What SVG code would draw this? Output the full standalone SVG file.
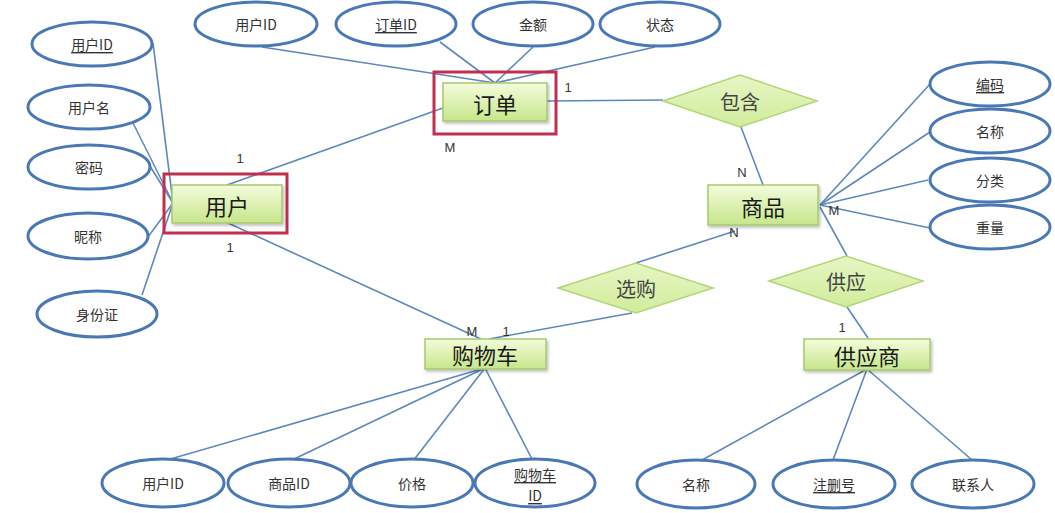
<svg xmlns="http://www.w3.org/2000/svg" width="1055" height="513" viewBox="0 0 1055 513">
<defs>
<linearGradient id="eg" x1="0" y1="0" x2="0" y2="1">
<stop offset="0" stop-color="#f4fcdc"/>
<stop offset="1" stop-color="#c6e68a"/>
</linearGradient>
<linearGradient id="dg" x1="0" y1="0" x2="0" y2="1">
<stop offset="0" stop-color="#e6f6c4"/>
<stop offset="1" stop-color="#d0ec9c"/>
</linearGradient>
<filter id="sh" x="-10%" y="-20%" width="130%" height="150%">
<feDropShadow dx="1.5" dy="2" stdDeviation="1.5" flood-color="#000" flood-opacity="0.25"/>
</filter>
<style>
.attr ellipse{fill:#fff;stroke:#4a78b4;stroke-width:3}
.attr text{font-family:"Noto Sans CJK SC","Liberation Sans",sans-serif;font-size:14px;fill:#333;text-anchor:middle;dominant-baseline:central}
.u{text-decoration:underline}
.ent rect.b{fill:url(#eg);stroke:#a8c870;stroke-width:1.5;filter:url(#sh)}
.ent rect.r{fill:none;stroke:#c0304e;stroke-width:3}
.ent text{font-family:"Noto Sans CJK SC","Liberation Sans",sans-serif;font-size:22px;fill:#1a1a1a;text-anchor:middle;dominant-baseline:central}
.rel polygon{fill:url(#dg);stroke:#b4d47a;stroke-width:1.5}
.rel text{font-family:"Noto Sans CJK SC","Liberation Sans",sans-serif;font-size:20px;fill:#444;text-anchor:middle;dominant-baseline:central}
#connectors line{stroke:#5f87bd;stroke-width:1.6}
.card{font-family:"Liberation Sans",sans-serif;font-size:13px;fill:#333;text-anchor:middle;dominant-baseline:central}
</style>
</defs>
<rect width="1055" height="513" fill="#fff"/>

<g id="connectors">
<line x1="153" y1="43" x2="173" y2="203"/>
<line x1="133" y1="123" x2="173" y2="203"/>
<line x1="148" y1="163" x2="173" y2="203"/>
<line x1="148" y1="237" x2="173" y2="203"/>
<line x1="142" y1="295" x2="173" y2="203"/>
<line x1="262" y1="47" x2="495" y2="83"/>
<line x1="440" y1="42" x2="495" y2="83"/>
<line x1="533" y1="47" x2="495" y2="83"/>
<line x1="655" y1="47" x2="495" y2="83"/>
<line x1="227" y1="185" x2="443" y2="108"/>
<line x1="228" y1="223" x2="481" y2="339"/>
<line x1="547" y1="101" x2="663" y2="100"/>
<line x1="741" y1="127" x2="763" y2="185"/>
<line x1="820" y1="205" x2="930" y2="84"/>
<line x1="820" y1="205" x2="930" y2="132"/>
<line x1="820" y1="205" x2="928" y2="180"/>
<line x1="820" y1="205" x2="930" y2="228"/>
<line x1="636" y1="263" x2="735" y2="231"/>
<line x1="632" y1="313" x2="489" y2="339"/>
<line x1="820" y1="207" x2="847" y2="256"/>
<line x1="847" y1="307" x2="868" y2="338"/>
<line x1="485" y1="368" x2="167" y2="460"/>
<line x1="485" y1="368" x2="292" y2="460"/>
<line x1="485" y1="368" x2="413" y2="461"/>
<line x1="485" y1="368" x2="533" y2="461"/>
<line x1="867" y1="369" x2="702" y2="460"/>
<line x1="867" y1="369" x2="833" y2="460"/>
<line x1="867" y1="369" x2="972" y2="460"/>
</g>

<g id="cardinalities">
<text class="card" x="240" y="158">1</text>
<text class="card" x="450" y="147">M</text>
<text class="card" x="230" y="247">1</text>
<text class="card" x="568" y="87">1</text>
<text class="card" x="742" y="172">N</text>
<text class="card" x="834" y="210">M</text>
<text class="card" x="734" y="232">N</text>
<text class="card" x="472" y="331">M</text>
<text class="card" x="506" y="331">1</text>
<text class="card" x="842" y="327">1</text>
</g>

<g id="attr-user-id" class="attr"><ellipse cx="92" cy="44" rx="60" ry="22"/><text x="92" y="44" class="u">用户ID</text></g>
<g id="attr-user-name" class="attr"><ellipse cx="89" cy="107" rx="61" ry="22"/><text x="89" y="107">用户名</text></g>
<g id="attr-password" class="attr"><ellipse cx="89" cy="167" rx="61" ry="22"/><text x="89" y="167">密码</text></g>
<g id="attr-nickname" class="attr"><ellipse cx="88" cy="236" rx="60" ry="23"/><text x="88" y="236">昵称</text></g>
<g id="attr-idcard" class="attr"><ellipse cx="97" cy="314" rx="60" ry="23"/><text x="97" y="314">身份证</text></g>

<g id="attr-order-userid" class="attr"><ellipse cx="256" cy="24" rx="61" ry="22"/><text x="256" y="24">用户ID</text></g>
<g id="attr-order-id" class="attr"><ellipse cx="396" cy="24" rx="60" ry="22"/><text x="396" y="24" class="u">订单ID</text></g>
<g id="attr-amount" class="attr"><ellipse cx="533" cy="24" rx="60" ry="22"/><text x="533" y="24">金额</text></g>
<g id="attr-status" class="attr"><ellipse cx="660" cy="24" rx="60" ry="22"/><text x="660" y="24">状态</text></g>

<g id="attr-code" class="attr"><ellipse cx="990" cy="84" rx="60" ry="22"/><text x="990" y="84" class="u">编码</text></g>
<g id="attr-goods-name" class="attr"><ellipse cx="990" cy="131" rx="60" ry="22"/><text x="990" y="131">名称</text></g>
<g id="attr-category" class="attr"><ellipse cx="990" cy="180" rx="60" ry="22"/><text x="990" y="180">分类</text></g>
<g id="attr-weight" class="attr"><ellipse cx="990" cy="227" rx="60" ry="22"/><text x="990" y="227">重量</text></g>

<g id="attr-cart-userid" class="attr"><ellipse cx="163" cy="483" rx="61" ry="24"/><text x="163" y="483">用户ID</text></g>
<g id="attr-cart-goodsid" class="attr"><ellipse cx="289" cy="483" rx="61" ry="24"/><text x="289" y="483">商品ID</text></g>
<g id="attr-price" class="attr"><ellipse cx="412" cy="483" rx="61" ry="24"/><text x="412" y="483">价格</text></g>
<g id="attr-cart-id" class="attr"><ellipse cx="535" cy="483" rx="60" ry="24"/><text x="535" y="474" class="u">购物车</text><text x="535" y="495" class="u">ID</text></g>

<g id="attr-supplier-name" class="attr"><ellipse cx="696" cy="484" rx="59" ry="24"/><text x="696" y="484">名称</text></g>
<g id="attr-regno" class="attr"><ellipse cx="834" cy="484" rx="61" ry="24"/><text x="834" y="484" class="u">注删号</text></g>
<g id="attr-contact" class="attr"><ellipse cx="973" cy="484" rx="61" ry="24"/><text x="973" y="484">联系人</text></g>

<g id="ent-user" class="ent"><rect class="r" x="164" y="174" width="123" height="59"/><rect class="b" x="172" y="185" width="110" height="38"/><text x="227" y="205">用户</text></g>
<g id="ent-order" class="ent"><rect class="r" x="434" y="72" width="122" height="62"/><rect class="b" x="443" y="83" width="104" height="38"/><text x="495" y="103">订单</text></g>
<g id="ent-goods" class="ent"><rect class="b" x="708" y="185" width="110" height="40"/><text x="763" y="206">商品</text></g>
<g id="ent-cart" class="ent"><rect class="b" x="425" y="339" width="121" height="30"/><text x="485" y="354">购物车</text></g>
<g id="ent-supplier" class="ent"><rect class="b" x="804" y="339" width="126" height="31"/><text x="867" y="355">供应商</text></g>

<g id="rel-contain" class="rel"><polygon points="663,101 740,75 817,101 740,127"/><text x="740" y="101">包含</text></g>
<g id="rel-select" class="rel"><polygon points="558,288 636,263 713,288 636,313"/><text x="636" y="288">选购</text></g>
<g id="rel-supply" class="rel"><polygon points="769,281 846,256 923,281 846,307"/><text x="846" y="281">供应</text></g>
</svg>
